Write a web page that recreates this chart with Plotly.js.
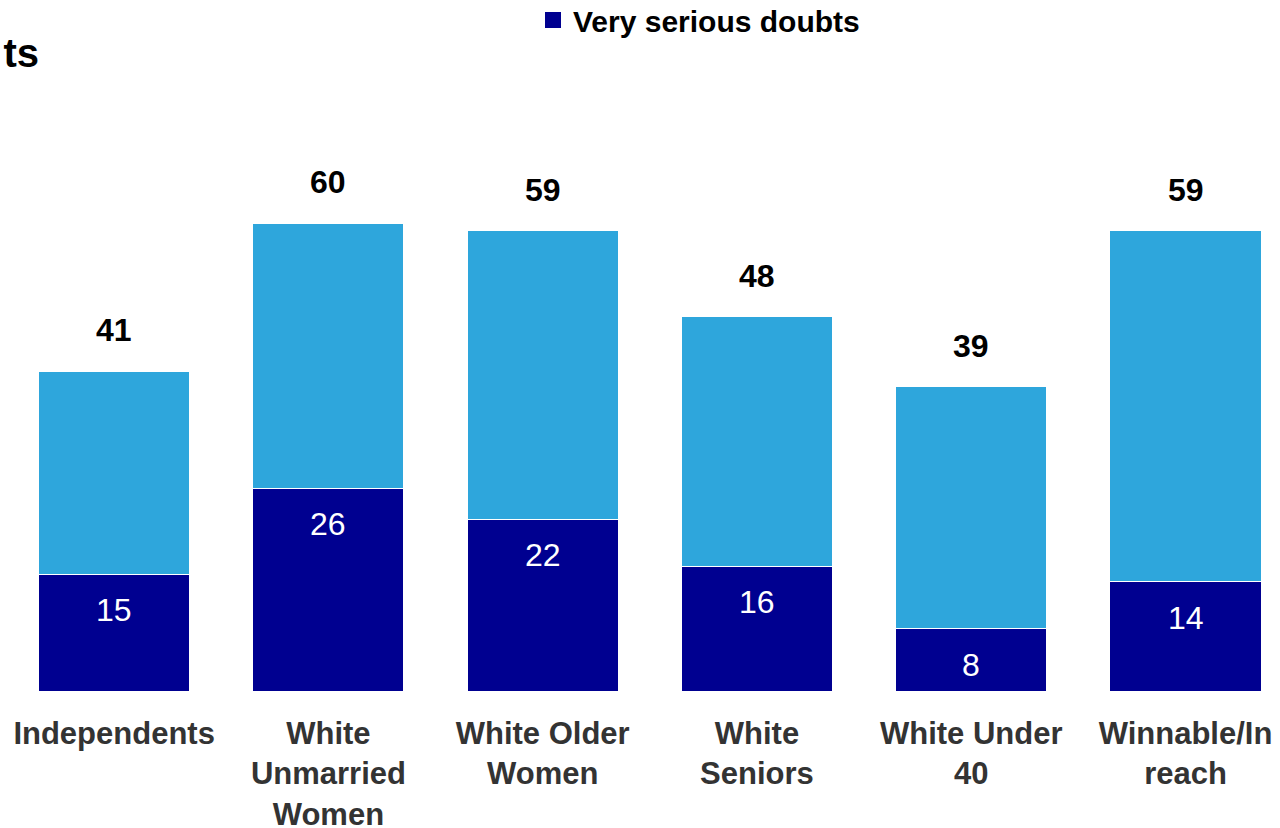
<!DOCTYPE html>
<html>
<head>
<meta charset="utf-8">
<script src="https://cdn.plot.ly/plotly-3.0.1.min.js"></script>
<style>html,body{margin:0;padding:0;background:#fff;}#chart{width:1280px;height:828px;}</style>
</head>
<body>
<div id="chart"></div>
<script>
const categories = ['Independents', 'White<br>Unmarried<br>Women', 'White Older<br>Women', 'White<br>Seniors', 'White Under<br>40', 'Winnable/In<br>reach'];
const totals = [41, 60, 59, 48, 39, 59];
const verySerious = [15, 26, 22, 16, 8, 14];
const seriesName = 'Very serious doubts';
const titleText = 'ts';

const remainder = totals.map((t, i) => t - verySerious[i]);
const FONT = 'Liberation Sans, Arial, sans-serif';
const NAVY = '#000090';
const LIGHT = '#2EA6DC';

const traces = [
  {
    type: 'bar', x: categories, y: verySerious, name: seriesName, showlegend: false,
    legendgroup: 'vs',
    marker: {color: NAVY, line: {color: '#ffffff', width: 1}},
    hoverinfo: 'skip'
  },
  {
    type: 'bar', x: categories, y: remainder, name: 'Other', showlegend: false,
    marker: {color: LIGHT, line: {color: '#ffffff', width: 1}},
    hoverinfo: 'skip'
  },
  {
    type: 'scatter', mode: 'markers', x: [null], y: [null], name: seriesName,
    legendgroup: 'vs', showlegend: true,
    marker: {symbol: 'square', size: 16, color: NAVY},
    hoverinfo: 'skip'
  }
];

const annotations = [];
categories.forEach((c, i) => {
  annotations.push({
    x: c, y: totals[i], xref: 'x', yref: 'y', text: String(totals[i]),
    showarrow: false, yanchor: 'bottom', yshift: 21,
    font: {family: FONT, size: 32, color: '#000000', weight: 'bold'}
  });
  annotations.push({
    x: c, y: verySerious[i], xref: 'x', yref: 'y', text: String(verySerious[i]),
    showarrow: false, yanchor: 'top', yshift: -16,
    font: {family: FONT, size: 32, color: '#ffffff'}
  });
});

const layout = {
  width: 1280, height: 828,
  margin: {l: 7, r: 0, t: 100, b: 137},
  paper_bgcolor: '#ffffff', plot_bgcolor: '#ffffff',
  barmode: 'stack', bargap: 0.295,
  title: {
    text: titleText, x: 39 / 1280, xref: 'container', xanchor: 'right',
    y: 1 - 53 / 828, yref: 'container', yanchor: 'middle',
    pad: {l: 0, r: 0},
    font: {family: FONT, size: 40, color: '#000000', weight: 'bold'}
  },
  showlegend: true,
  legend: {
    orientation: 'h', x: 533 / 1280, xref: 'container', xanchor: 'left',
    y: 1 - 20 / 828, yref: 'container', yanchor: 'middle',
    font: {family: FONT, size: 30, color: '#000000', weight: 'bold'},
    itemwidth: 30, bgcolor: 'rgba(0,0,0,0)', itemsizing: 'trace',
    borderwidth: 0, tracegroupgap: 0
  },
  xaxis: {
    type: 'category', range: [-0.5, 5.441], fixedrange: true,
    showgrid: false, zeroline: false, showline: false, ticks: '',
    ticklabelstandoff: 21,
    tickfont: {family: FONT, size: 31, color: '#333333', weight: 'bold'}
  },
  yaxis: {
    range: [0, 75.77], visible: false, showgrid: false, zeroline: false, fixedrange: true
  },
  annotations: annotations
};

Plotly.newPlot('chart', traces, layout, {displayModeBar: false, staticPlot: true});
</script>
</body>
</html>
